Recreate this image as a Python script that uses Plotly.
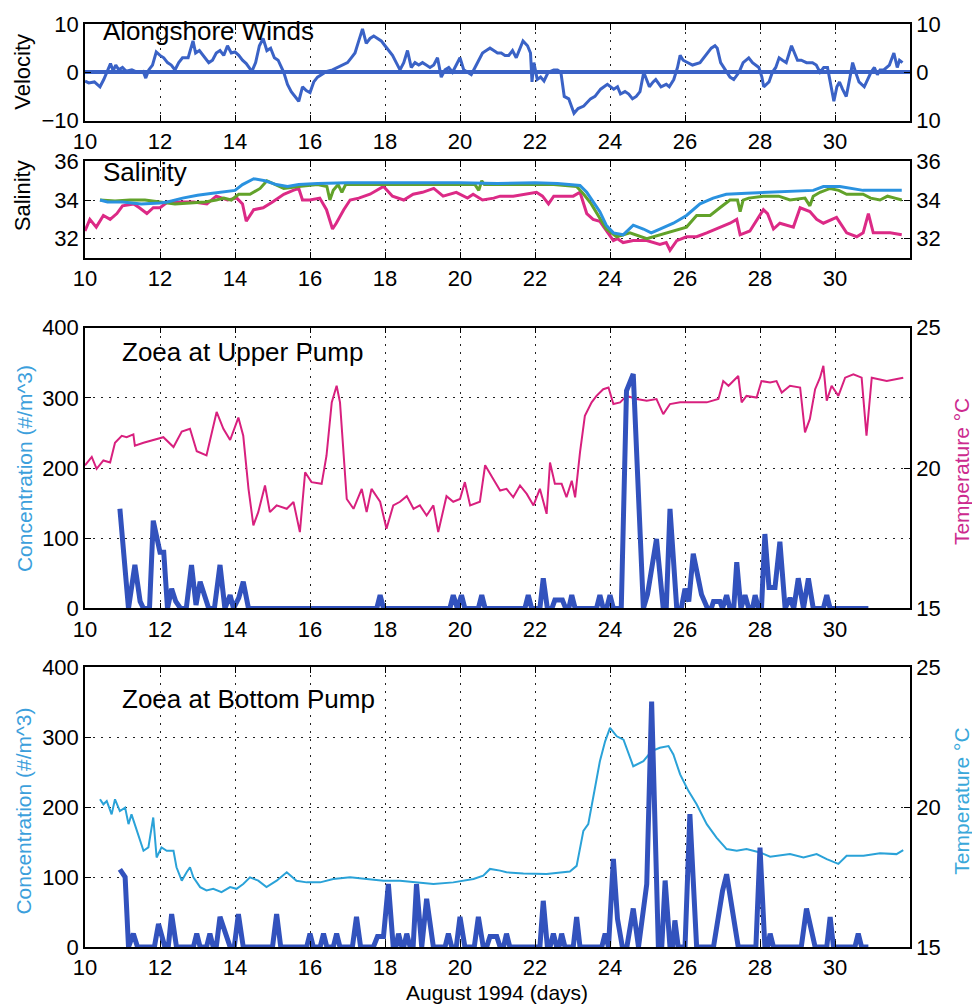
import plotly.graph_objects as go

# ---------------- data ----------------
# Alongshore winds (velocity)
wind_day = [10.0, 10.1, 10.25, 10.4, 10.5, 10.6, 10.68, 10.75, 10.82, 10.9, 11.0, 11.1, 11.25, 11.4, 11.55,
            11.62, 11.7, 11.8, 11.9, 12.0, 12.1, 12.2, 12.3, 12.4, 12.5, 12.6, 12.75, 12.88, 12.95, 13.05,
            13.15, 13.3, 13.4, 13.5, 13.6, 13.7, 13.8, 13.9, 14.0, 14.1, 14.2, 14.3, 14.45, 14.55, 14.65,
            14.75, 14.85, 14.95, 15.05, 15.15, 15.3, 15.4, 15.5, 15.6, 15.7, 15.8, 15.9, 16.0, 16.1, 16.2,
            16.3, 16.45, 16.6, 16.75, 16.9, 17.0, 17.1, 17.2, 17.3, 17.4, 17.5, 17.6, 17.7, 17.8, 17.9,
            18.0, 18.1, 18.2, 18.3, 18.4, 18.5, 18.6, 18.7, 18.8, 18.9, 19.0, 19.1, 19.2, 19.3, 19.4,
            19.5, 19.6, 19.7, 19.8, 19.9, 20.0, 20.1, 20.2, 20.3, 20.4, 20.5, 20.6, 20.7, 20.8, 20.9,
            21.0, 21.1, 21.2, 21.3, 21.4, 21.5, 21.6, 21.68, 21.8, 21.88, 21.92, 21.97, 22.06, 22.15, 22.24,
            22.35, 22.5, 22.6, 22.69, 22.78, 22.9, 23.04, 23.15, 23.3, 23.48, 23.6, 23.75, 23.93, 24.1, 24.2,
            24.28, 24.4, 24.5, 24.6, 24.7, 24.8, 24.9, 25.05, 25.15, 25.22, 25.36, 25.5, 25.58, 25.7, 25.8,
            25.87, 25.95, 26.06, 26.2, 26.4, 26.5, 26.6, 26.7, 26.8, 26.86, 26.95, 27.03, 27.1, 27.2, 27.3,
            27.44, 27.55, 27.62, 27.7, 27.8, 27.9, 27.97, 28.05, 28.1, 28.24, 28.33, 28.42, 28.51, 28.6, 28.7,
            28.84, 28.92, 29.0, 29.1, 29.24, 29.4, 29.5, 29.6, 29.7, 29.8, 29.9, 29.97, 30.05, 30.12, 30.2,
            30.3, 30.4, 30.47, 30.55, 30.64, 30.78, 30.9, 30.96, 31.05, 31.13, 31.2, 31.3, 31.45, 31.57, 31.66,
            31.72, 31.8]
wind_vel = [-1.8, -2.2, -2.0, -3.0, -1.5, 0.5, 1.8, 0.3, 1.5, 0.5, 1.0, 0.2, 0.5, 0.0, 0.2,
            -1.2, 0.5, 1.5, 4.2, 3.5, 3.0, 2.0, 1.5, 0.5, 2.0, 3.0, 3.0, 6.5, 4.0, 4.5,
            3.5, 2.0, 2.5, 4.0, 4.5, 3.5, 5.5, 4.0, 4.2, 3.5, 2.5, 1.8, 0.2, 2.0, 5.5,
            7.0, 4.5, 5.0, 3.0, 2.5, 0.0, -2.5, -4.0, -5.0, -6.0, -3.0, -3.8, -4.2, -2.0, -1.0,
            -0.5, 0.2, 0.5, 1.0, 1.5, 2.0, 3.0, 4.0, 6.5, 9.0, 6.0, 7.0, 7.5, 7.0, 6.5,
            5.5, 4.5, 3.5, 2.0, 0.5, 2.0, 4.5, 1.0, 2.0, 1.5, 2.0, 1.5, 1.0, 1.5, 3.0,
            -1.0, 0.5, 1.0, 0.0, 1.5, 3.0, 0.5, 0.0, -0.5, 1.0, 2.5, 4.0, 4.5, 5.0, 4.5,
            4.0, 4.0, 3.5, 3.5, 4.5, 3.0, 5.0, 6.5, 5.5, 4.0, -2.0, 2.0, -1.5, -1.0, -1.8,
            0.0, 0.5, 0.5, 0.0, -5.0, -5.5, -8.5, -7.5, -7.0, -5.5, -5.0, -3.5, -2.5, -3.5, -3.0,
            -4.5, -4.0, -4.5, -5.5, -5.0, -4.0, 0.0, -3.0, -2.0, -1.5, -3.0, -2.5, -3.0, -1.5, 1.0,
            3.5, 2.5, 2.0, 1.5, 2.0, 3.0, 4.0, 5.0, 5.5, 5.0, 2.0, 1.0, 0.0, -1.0, -1.5,
            0.0, 2.0, 2.5, 3.0, 2.0, 1.5, 1.0, -1.0, -3.0, -2.0, 0.0, 1.0, 3.0, 2.5, 2.0,
            5.5, 4.0, 2.5, 2.5, 2.0, 2.0, 1.5, 0.0, 1.0, 1.0, -3.0, -6.0, -3.0, -2.0, -3.5,
            -5.0, -1.0, 2.0, 0.0, -2.0, -3.0, -1.0, 0.0, 1.0, -0.5, 0.5, 0.5, 1.5, 4.0, 1.0,
            2.5, 2.0]

# Salinity, three instruments
sal_blue_day = [10.4, 10.6, 11.0, 11.5, 12.0, 12.2, 12.6, 13.0, 13.4, 13.8, 14.0, 14.2, 14.5, 14.8, 15.1,
                15.4, 15.7, 16.2, 17.0, 18.0, 19.0, 20.0, 21.0, 22.0, 22.6, 23.0, 23.2, 23.38, 23.56, 23.73,
                23.9, 24.09, 24.35, 24.5, 24.62, 24.89, 25.1, 25.33, 25.69, 26.04, 26.4, 26.75, 27.1, 27.64,
                28.36, 29.42, 29.69, 30.13, 30.75, 31.78]
sal_blue = [34.0, 33.9, 33.9, 33.8, 33.85, 33.9, 34.1, 34.25, 34.35, 34.45, 34.5, 34.8, 35.1, 35.0, 34.8,
            34.7, 34.8, 34.85, 34.9, 34.9, 34.9, 34.9, 34.85, 34.9, 34.85, 34.8, 34.75, 34.4, 33.9, 33.4,
            32.7, 32.3, 32.2, 32.5, 32.7, 32.5, 32.3, 32.5, 32.8, 33.2, 33.8, 34.1, 34.3, 34.35,
            34.4, 34.5, 34.7, 34.7, 34.5, 34.5]

sal_green_day = [10.4, 10.8, 11.2, 11.6, 12.0, 12.4, 12.8, 13.2, 13.5, 13.7, 13.9, 14.1, 14.4, 14.6, 14.67,
                 14.85, 15.1, 15.3, 15.7, 16.2, 16.45, 16.53, 16.62, 16.75, 16.85, 16.95, 17.5, 18.5, 19.5,
                 20.4, 20.5, 20.58, 20.65, 21.5, 22.5, 23.11, 23.3, 23.5, 23.69, 23.9, 24.18, 24.53, 24.98,
                 25.33, 25.69, 26.04, 26.31, 26.67, 26.93, 27.2, 27.4, 27.47, 27.55, 27.7, 28.09, 28.5, 28.8,
                 29.2, 29.33, 29.42, 29.6, 29.87, 30.1, 30.31, 30.75, 30.95, 31.2, 31.4, 31.6, 31.78]
sal_green = [34.0, 33.95, 34.0, 34.0, 33.9, 33.8, 33.85, 33.9, 34.0, 34.1, 34.0, 34.3, 34.3, 34.5, 34.6,
             35.0, 34.8, 34.6, 34.7, 34.8, 34.7, 34.0, 34.5, 34.8, 34.4, 34.8, 34.8, 34.8, 34.8,
             34.8, 34.5, 35.0, 34.8, 34.8, 34.8, 34.7, 34.3, 33.8, 33.2, 32.5, 32.1, 32.3, 32.0,
             32.2, 32.4, 32.6, 33.2, 33.2, 33.6, 34.0, 34.0, 33.4, 34.0, 34.1, 34.2, 34.2, 34.0,
             34.1, 33.7, 34.2, 34.4, 34.6, 34.5, 34.3, 34.3, 34.1, 34.0, 34.2, 34.1, 34.0]

sal_pink_day = [10.0, 10.13, 10.3, 10.49, 10.67, 10.85, 11.0, 11.3, 11.45, 11.65, 11.82, 12.0, 12.2, 12.5, 12.9,
                13.25, 13.5, 13.8, 14.05, 14.2, 14.3, 14.5, 14.75, 15.0, 15.3, 15.55, 15.7, 15.8, 16.0, 16.26,
                16.44, 16.6, 16.7, 16.9, 17.07, 17.3, 17.6, 17.96, 18.2, 18.5, 18.75, 19.0, 19.3, 19.55, 19.9,
                20.2, 20.35, 20.6, 20.9, 21.07, 21.42, 22.04, 22.2, 22.36, 22.5, 23.02, 23.2, 23.38, 23.55,
                23.73, 23.95, 24.09, 24.2, 24.35, 24.62, 24.98, 25.33, 25.5, 25.6, 25.78, 26.04, 26.31, 26.58,
                26.93, 27.2, 27.38, 27.47, 27.73, 28.09, 28.2, 28.36, 28.53, 28.89, 29.07, 29.33, 29.51, 29.69,
                30.04, 30.31, 30.58, 30.75, 30.89, 31.02, 31.47, 31.78]
sal_pink = [32.4, 33.0, 32.6, 33.2, 33.0, 33.3, 33.7, 33.8, 33.6, 33.3, 33.6, 33.6, 33.9, 33.9, 33.9,
            33.8, 34.2, 34.0, 34.1, 33.8, 32.9, 33.5, 33.6, 33.9, 34.3, 34.5, 34.6, 34.0, 34.0, 34.1,
            33.5, 32.5, 32.8, 33.5, 34.0, 34.1, 34.3, 34.7, 34.2, 34.0, 34.3, 34.4, 34.6, 34.2, 34.4,
            34.1, 34.3, 34.0, 34.1, 34.2, 34.2, 34.4, 34.2, 33.8, 34.2, 34.2, 34.4, 33.3, 33.0,
            32.9, 32.3, 31.9, 32.0, 31.8, 31.9, 31.9, 31.7, 31.8, 31.4, 31.9, 32.1, 32.1, 32.3,
            32.6, 32.8, 33.0, 32.2, 32.4, 33.5, 33.3, 32.5, 32.8, 32.6, 33.6, 33.4, 33.0, 32.8,
            33.1, 32.3, 32.1, 32.3, 33.3, 32.3, 32.3, 32.2]

# Upper pump: temperature and zoea concentration
upper_temp_day = [10.0, 10.18, 10.31, 10.49, 10.67, 10.8, 10.98, 11.11, 11.29, 11.33, 11.56, 11.82, 12.09, 12.36,
                  12.58, 12.8, 12.98, 13.24, 13.51, 13.69, 13.87, 14.09, 14.22, 14.36, 14.49, 14.62, 14.8,
                  14.93, 15.11, 15.38, 15.56, 15.73, 15.87, 16.04, 16.31, 16.44, 16.58, 16.71, 16.8, 16.98,
                  17.16, 17.38, 17.51, 17.64, 17.87, 18.04, 18.22, 18.4, 18.58, 18.76, 18.93, 19.11, 19.29,
                  19.42, 19.64, 19.82, 20.0, 20.13, 20.27, 20.53, 20.67, 20.89, 21.07, 21.24, 21.42, 21.6,
                  21.78, 21.96, 22.13, 22.31, 22.4, 22.53, 22.71, 22.84, 22.98, 23.07, 23.2, 23.33, 23.51,
                  23.64, 23.82, 23.96, 24.09, 24.27, 24.44, 24.71, 24.98, 25.24, 25.42, 25.6, 25.87, 26.22,
                  26.58, 26.89, 27.02, 27.16, 27.42, 27.51, 27.64, 27.91, 28.04, 28.27, 28.44, 28.58, 28.8,
                  29.07, 29.2, 29.33, 29.47, 29.6, 29.69, 29.78, 29.91, 30.09, 30.27, 30.49, 30.71, 30.84,
                  30.98, 31.38, 31.82]
upper_temp = [20.1, 20.4, 19.97, 20.27, 20.2, 20.9, 21.15, 21.1, 21.2, 20.8, 20.9, 21.0, 21.1, 20.75,
              21.3, 21.4, 20.6, 20.45, 22.0, 21.4, 21.0, 21.8, 21.15, 19.26, 17.96, 18.43, 19.38,
              18.43, 18.67, 18.55, 18.79, 17.72, 19.85, 19.5, 19.44, 20.44, 22.34, 22.93, 22.34, 18.9,
              18.55, 19.26, 18.43, 19.26, 18.8, 17.84, 18.67, 18.8, 19.0, 18.55, 18.67, 18.31, 18.67,
              17.72, 19.0, 18.8, 18.9, 19.5, 18.67, 18.8, 20.1, 19.6, 19.2, 19.26, 18.96, 19.38,
              19.08, 18.67, 19.26, 18.37, 20.2, 19.44, 19.44, 18.96, 19.55, 18.96, 20.56, 21.86, 22.34,
              22.57, 22.81, 22.87, 22.28, 22.34, 22.57, 22.46, 22.4, 22.46, 21.92, 22.28, 22.34, 22.34,
              22.34, 22.46, 23.1, 22.93, 23.28, 22.34, 22.57, 22.51, 23.1, 23.05, 23.1, 22.69, 22.93,
              22.87, 21.27, 21.75, 22.81, 23.22, 23.64, 22.4, 22.93, 22.57, 23.22, 23.34, 23.22, 21.15,
              23.22, 23.1, 23.22]

upper_zoea_day = [10.93, 11.16, 11.33, 11.47, 11.56, 11.72, 11.82, 11.92, 12.0, 12.1, 12.2, 12.31, 12.42, 12.55,
                  12.7, 12.84, 12.96, 13.07, 13.3, 13.45, 13.6, 13.73, 13.8, 13.87, 13.96, 14.1, 14.22, 14.36,
                  17.78, 17.87, 17.96, 19.73, 19.82, 19.93, 20.04, 20.13, 20.49, 20.58, 20.67, 21.73, 21.82,
                  21.91, 22.13, 22.22, 22.33, 22.45, 22.53, 22.73, 22.82, 22.9, 22.98, 23.07, 23.64, 23.73,
                  23.82, 23.91, 24.0, 24.09, 24.3, 24.44, 24.62, 24.89, 25.0, 25.24, 25.42, 25.5, 25.6, 25.78,
                  25.9, 26.0, 26.1, 26.22, 26.44, 26.6, 26.7, 26.76, 26.93, 27.0, 27.11, 27.2, 27.3, 27.38,
                  27.49, 27.6, 27.7, 27.8, 27.87, 27.96, 28.04, 28.13, 28.24, 28.4, 28.53, 28.67, 28.8, 28.9,
                  29.02, 29.16, 29.29, 29.42, 29.69, 29.78, 29.87, 30.89]
upper_zoea = [142, 0, 62, 10, 0, 0, 125, 95, 80, 80, 0, 28, 10, 0,
              0, 62, 5, 38, 0, 0, 62, 0, 10, 19, 0, 15, 38, 0,
              0, 19, 0, 0, 19, 0, 19, 0, 0, 19, 0, 0, 19,
              0, 0, 43, 0, 0, 12, 12, 0, 0, 19, 0, 0, 19,
              0, 0, 19, 0, 0, 310, 334, 0, 20, 99, 0, 0, 142, 0,
              0, 28, 10, 78, 20, 0, 0, 10, 10, 0, 19, 0, 0, 66,
              0, 19, 0, 0, 19, 0, 0, 106, 30, 30, 95, 0, 15, 0,
              43, 0, 43, 0, 0, 19, 0, 0]

# Bottom pump: temperature and zoea concentration
bottom_temp_day = [10.4, 10.49, 10.58, 10.71, 10.8, 10.93, 11.07, 11.16, 11.24, 11.38, 11.56, 11.69, 11.82, 11.91,
                   12.04, 12.18, 12.36, 12.44, 12.58, 12.71, 12.8, 12.89, 13.07, 13.24, 13.42, 13.64, 13.87,
                   14.04, 14.22, 14.4, 14.62, 14.84, 15.11, 15.38, 15.64, 15.91, 16.27, 16.62, 17.07, 17.51,
                   17.96, 18.4, 18.84, 19.29, 19.82, 20.36, 20.62, 20.8, 21.07, 21.24, 21.69, 22.31, 22.93,
                   23.11, 23.29, 23.42, 23.6, 23.73, 23.87, 24.0, 24.18, 24.36, 24.62, 24.89, 25.11, 25.33,
                   25.56, 25.69, 25.87, 26.09, 26.31, 26.58, 26.84, 27.11, 27.38, 27.64, 28.0, 28.27, 28.8,
                   29.16, 29.51, 29.78, 30.09, 30.31, 30.76, 31.2, 31.64, 31.82]
bottom_temp = [20.28, 20.1, 20.22, 19.74, 20.28, 19.86, 19.98, 19.39, 19.74, 19.15, 18.44, 18.56, 19.63, 18.2,
               18.56, 18.44, 18.44, 17.85, 17.37, 17.67, 17.85, 17.49, 17.14, 17.02, 17.08, 16.96, 17.14,
               17.08, 17.25, 17.49, 17.37, 17.14, 17.37, 17.67, 17.37, 17.31, 17.31, 17.43, 17.49, 17.43,
               17.37, 17.37, 17.31, 17.25, 17.31, 17.43, 17.55, 17.79, 17.73, 17.67, 17.63, 17.61, 17.7,
               17.9, 19.15, 19.39, 20.69, 21.64, 22.35, 22.83, 22.53, 22.41, 21.46, 21.64, 22.0, 22.12,
               22.18, 21.88, 21.17, 20.58, 20.1, 19.39, 18.91, 18.5, 18.44, 18.5, 18.38, 18.23, 18.32,
               18.2, 18.32, 18.14, 17.97, 18.26, 18.26, 18.35, 18.32, 18.46]

bottom_zoea_day = [10.93, 11.07, 11.16, 11.29, 11.4, 11.85, 11.96, 12.13, 12.22, 12.31, 12.44, 12.89, 12.98, 13.07,
                   13.24, 13.33, 13.42, 13.5, 13.6, 13.87, 13.98, 14.09, 14.22, 15.0, 15.11, 15.22, 15.91, 16.0,
                   16.09, 16.27, 16.36, 16.45, 16.62, 16.71, 16.8, 17.13, 17.24, 17.35, 17.69, 17.8, 17.96,
                   18.09, 18.22, 18.29, 18.36, 18.45, 18.5, 18.58, 18.67, 18.75, 18.84, 18.98, 19.11, 19.29,
                   19.6, 19.69, 19.78, 19.9, 20.0, 20.13, 20.38, 20.49, 20.62, 20.71, 20.8, 20.98, 21.07,
                   21.16, 21.24, 21.33, 22.13, 22.22, 22.33, 22.4, 22.49, 22.58, 22.64, 22.71, 22.8, 23.02,
                   23.11, 23.2, 23.78, 23.87, 23.96, 24.09, 24.2, 24.33, 24.45, 24.62, 24.76, 24.98, 25.11,
                   25.29, 25.38, 25.47, 25.6, 25.67, 25.73, 25.82, 26.0, 26.13, 26.31, 26.76, 27.0, 27.11,
                   27.42, 27.89, 28.0, 28.13, 28.2, 28.27, 28.36, 29.1, 29.24, 29.35, 29.47, 29.78, 29.87,
                   29.96, 30.53, 30.62, 30.71, 30.89]
bottom_zoea = [111, 100, 0, 19, 0, 0, 33, 0, 0, 47, 0, 0, 19, 0,
               0, 19, 0, 0, 43, 0, 0, 47, 0, 0, 47, 0, 0, 19,
               0, 0, 19, 0, 0, 19, 0, 0, 43, 0, 0, 15, 15,
               90, 0, 0, 19, 0, 0, 19, 0, 0, 90, 0, 69, 0,
               0, 19, 0, 0, 43, 0, 0, 43, 0, 0, 15, 15, 0,
               0, 19, 0, 0, 66, 0, 0, 19, 0, 0, 19, 0, 0,
               43, 0, 0, 19, 0, 126, 40, 0, 0, 55, 0, 90, 351,
               0, 0, 95, 0, 0, 38, 0, 0, 190, 0, 0, 80, 104,
               0, 0, 142, 0, 0, 19, 0, 0, 55, 30, 0, 0, 43,
               0, 0, 19, 0, 0]

day_ticks = list(range(10, 31, 2))

# ---------------- styling ----------------
FONT = "Liberation Sans, Arial, Helvetica, sans-serif"
WIND_BLUE = "#3a62c6"
ZOEA_BLUE = "#3252bd"
SAL_BLUE = "#2a92e0"
SAL_GREEN = "#62a22a"
SAL_PINK = "#dc2a86"
TEMP_PINK = "#d8207e"
TEMP_CYAN = "#2aa2d8"
CONC_LABEL = "#3c9fdc"

W, H = 972, 1007
L_PX, R_PX, T_PX, B_PX = 85, 910, 20, 947


def ydom(top, bot):
    span = B_PX - T_PX
    return [1 - (bot - T_PX) / span, 1 - (top - T_PX) / span]


def px_x(x):
    return (x - L_PX) / (R_PX - L_PX)


def px_y(y):
    return 1 - (y - T_PX) / (B_PX - T_PX)


tickfont = dict(family=FONT, size=22, color="black")

fig = go.Figure()

# Panel 1: winds
fig.add_trace(go.Scatter(x=wind_day, y=wind_vel, mode="lines", xaxis="x", yaxis="y",
                         line=dict(color=WIND_BLUE, width=3)))
fig.add_trace(go.Scatter(x=[], y=[], mode="lines", xaxis="x", yaxis="y2", hoverinfo="skip"))

# Panel 2: salinity
fig.add_trace(go.Scatter(x=sal_pink_day, y=sal_pink, mode="lines", xaxis="x2", yaxis="y3",
                         line=dict(color=SAL_PINK, width=3)))
fig.add_trace(go.Scatter(x=sal_green_day, y=sal_green, mode="lines", xaxis="x2", yaxis="y3",
                         line=dict(color=SAL_GREEN, width=3)))
fig.add_trace(go.Scatter(x=sal_blue_day, y=sal_blue, mode="lines", xaxis="x2", yaxis="y3",
                         line=dict(color=SAL_BLUE, width=3)))
fig.add_trace(go.Scatter(x=[], y=[], mode="lines", xaxis="x2", yaxis="y4", hoverinfo="skip"))

# Panel 3: upper pump
fig.add_trace(go.Scatter(x=upper_temp_day, y=upper_temp, mode="lines", xaxis="x3", yaxis="y5",
                         line=dict(color=TEMP_PINK, width=2)))
fig.add_trace(go.Scatter(x=upper_zoea_day, y=upper_zoea, mode="lines", xaxis="x3", yaxis="y6",
                         line=dict(color=ZOEA_BLUE, width=5)))

# Panel 4: bottom pump
fig.add_trace(go.Scatter(x=bottom_temp_day, y=bottom_temp, mode="lines", xaxis="x4", yaxis="y7",
                         line=dict(color=TEMP_CYAN, width=2)))
fig.add_trace(go.Scatter(x=bottom_zoea_day, y=bottom_zoea, mode="lines", xaxis="x4", yaxis="y8",
                         line=dict(color=ZOEA_BLUE, width=5)))

# sparse dotted grid
grid = dict(showgrid=True, gridcolor="#222222", griddash="2px,6px", gridwidth=1.2)
frame = dict(showline=True, linecolor="black", linewidth=1.5, ticks="inside", ticklen=6,
             tickcolor="black", tickwidth=1, tickfont=tickfont, zeroline=False)


def xaxis(anchor):
    return dict(domain=[0, 1], anchor=anchor, range=[10, 32], tickvals=day_ticks,
                mirror="ticks", **frame, **grid)


def yleft(dom, rng, vals, **kw):
    d = dict(domain=dom, range=rng, tickvals=vals, side="left", mirror=True, **frame)
    d.update(kw)
    return d


def yright(over, rng, vals, text=None, **kw):
    d = dict(overlaying=over, range=rng, tickvals=vals, side="right", **frame, showgrid=False)
    if text is not None:
        d["ticktext"] = text
    d.update(kw)
    return d


d1 = ydom(20, 117)
d2 = ydom(158, 255)
d3 = ydom(325, 607)
d4 = ydom(666, 947)

layout = dict(
    width=W, height=H,
    margin=dict(l=L_PX, r=W - R_PX, t=T_PX, b=H - B_PX),
    paper_bgcolor="white", plot_bgcolor="white",
    showlegend=False,
    font=dict(family=FONT, color="black"),
    xaxis=xaxis("y"),
    xaxis2=xaxis("y3"),
    xaxis3=xaxis("y5"),
    xaxis4=xaxis("y7"),
    yaxis=dict(domain=d1, anchor="x", range=[-10, 10], tickvals=[-10, 0, 10], side="left",
               mirror=True, showline=True, linecolor="black", linewidth=1.5, ticks="inside",
               ticklen=6, tickcolor="black", tickfont=tickfont, showgrid=False,
               zeroline=True, zerolinecolor=WIND_BLUE, zerolinewidth=4),
    yaxis2=yright("y", [-10, 10], [-10, 0, 10], ["10", "0", "10"], anchor="x"),
    yaxis3=yleft(d2, [31, 36], [32, 34, 36], anchor="x2", **grid),
    yaxis4=yright("y3", [31, 36], [32, 34, 36], anchor="x2"),
    yaxis5=dict(domain=d3, anchor="x3", range=[15, 25], tickvals=[15, 20, 25], side="right",
                **frame, showgrid=False),
    yaxis6=yleft(d3, [0, 400], [0, 100, 200, 300, 400], anchor="x3", overlaying="y5", **grid),
    yaxis7=dict(domain=d4, anchor="x4", range=[15, 25], tickvals=[15, 20, 25], side="right",
                **frame, showgrid=False),
    yaxis8=yleft(d4, [0, 400], [0, 100, 200, 300, 400], anchor="x4", overlaying="y7", **grid),
)
fig.update_layout(**layout)

ann = []


def label(text, x, y, size, color="black", angle=0, xanchor="center"):
    ann.append(dict(text=text, x=px_x(x), y=px_y(y), xref="paper", yref="paper",
                    xanchor=xanchor, yanchor="middle", showarrow=False, textangle=angle,
                    font=dict(family=FONT, size=size, color=color)))


# axis titles
label("Velocity", 23, 68, 22, angle=-90)
label("Salinity", 22, 192, 22, angle=-90)
label("Concentration (#/m^3)", 24, 467, 21, color=CONC_LABEL, angle=-90)
label("Concentration (#/m^3)", 24, 811, 21, color=CONC_LABEL, angle=-90)
label("Temperature °C", 961, 470, 21, color="#cc2a8e", angle=-90)
label("Temperature °C", 962, 801, 21, color="#3aa8da", angle=-90)
label("August 1994 (days)", 497, 993, 21)

# panel titles
label("Alongshore Winds", 101, 27, 26, xanchor="left")
label("Salinity", 101, 169, 26, xanchor="left")
label("Zoea at Upper Pump", 120, 349, 26, xanchor="left")
label("Zoea at Bottom Pump", 120, 698, 26, xanchor="left")

fig.update_layout(annotations=ann)

fig.write_html("out.html")
